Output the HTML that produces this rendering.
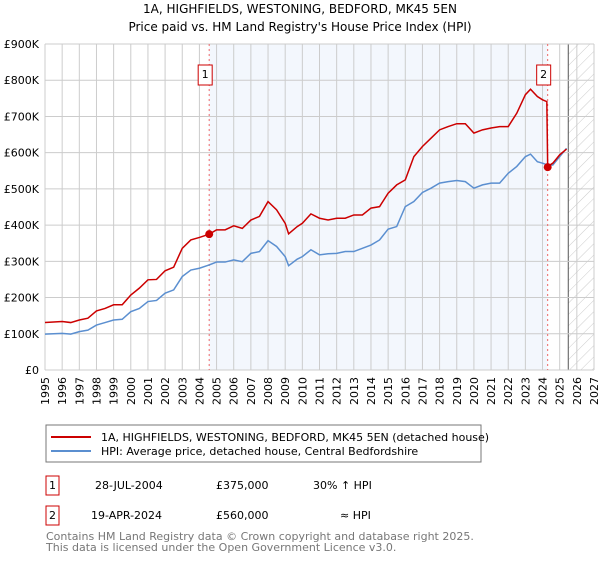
<!DOCTYPE html>
<html><head><meta charset="utf-8"><style>
body{margin:0;background:#fff;font-family:"Liberation Sans","DejaVu Sans",sans-serif;}
svg text{font-family:"DejaVu Sans","Liberation Sans",sans-serif;}
</style></head><body>
<svg id="c" width="600" height="560" xmlns="http://www.w3.org/2000/svg">
<text x="300" y="13" text-anchor="middle" font-size="12">1A, HIGHFIELDS, WESTONING, BEDFORD, MK45 5EN</text>
<text x="300" y="31" text-anchor="middle" font-size="12">Price paid vs. HM Land Registry's House Price Index (HPI)</text>
<g id="plot"></g>
<rect x="46" y="425" width="435" height="37" fill="none" stroke="#777"/>
<line x1="51" y1="437" x2="91" y2="437" stroke="#cc0000" stroke-width="2"/>
<text x="101" y="441" font-size="11">1A, HIGHFIELDS, WESTONING, BEDFORD, MK45 5EN (detached house)</text>
<line x1="51" y1="451" x2="91" y2="451" stroke="#5b8fd0" stroke-width="2"/>
<text x="101" y="455" font-size="11">HPI: Average price, detached house, Central Bedfordshire</text>
<g font-size="11">
<rect x="46" y="476" width="13" height="19" fill="none" stroke="#cc0000"/>
<text x="52.5" y="489" text-anchor="middle">1</text>
<text x="95" y="489">28-JUL-2004</text>
<text x="216" y="489">£375,000</text>
<text x="313" y="489">30% ↑ HPI</text>
<rect x="46" y="506" width="13" height="19" fill="none" stroke="#cc0000"/>
<text x="52.5" y="519" text-anchor="middle">2</text>
<text x="91" y="519">19-APR-2024</text>
<text x="216" y="519">£560,000</text>
<text x="340" y="519">≈ HPI</text>
</g>
<text x="46" y="540" font-size="11" fill="#777">Contains HM Land Registry data © Crown copyright and database right 2025.</text>
<text x="46" y="551" font-size="11" fill="#777">This data is licensed under the Open Government Licence v3.0.</text>
</svg>
<script>
const years=[1995,1996,1997,1998,1999,2000,2001,2002,2003,2004,2005,2006,2007,2008,2009,2010,2011,2012,2013,2014,2015,2016,2017,2018,2019,2020,2021,2022,2023,2024,2025,2026,2027];
const yTicks=[0,100,200,300,400,500,600,700,800,900];
const yTickLabels=["£0","£100K","£200K","£300K","£400K","£500K","£600K","£700K","£800K","£900K"];
const tPrice=[1995,1996,1996.5,1997,1997.5,1998,1998.5,1999,1999.5,2000,2000.5,2001,2001.5,2002,2002.5,2003,2003.5,2004,2004.57,2005,2005.5,2006,2006.5,2007,2007.5,2008,2008.5,2009,2009.2,2009.7,2010,2010.5,2011,2011.5,2012,2012.5,2013,2013.5,2014,2014.5,2015,2015.5,2016,2016.5,2017,2017.5,2018,2018.5,2019,2019.5,2020,2020.5,2021,2021.5,2022,2022.5,2023,2023.3,2023.7,2024.0,2024.25,2024.3,2024.6,2025,2025.4];
const price=[131,134,131,138,143,163,170,180,180,207,226,249,250,274,284,336,359,366,375,387,387,398,391,414,424,465,442,405,376,396,405,431,419,414,419,419,428,428,447,451,488,511,525,589,617,640,663,672,680,680,654,663,668,672,672,709,760,775,755,746,741,562,571,594,610];
const tHpi=[1995,1996,1996.5,1997,1997.5,1998,1998.5,1999,1999.5,2000,2000.5,2001,2001.5,2002,2002.5,2003,2003.5,2004,2004.57,2005,2005.5,2006,2006.5,2007,2007.5,2008,2008.5,2009,2009.2,2009.7,2010,2010.5,2011,2011.5,2012,2012.5,2013,2013.5,2014,2014.5,2015,2015.5,2016,2016.5,2017,2017.5,2018,2018.5,2019,2019.5,2020,2020.5,2021,2021.5,2022,2022.5,2023,2023.3,2023.7,2024.0,2024.3,2024.6,2025,2025.4];
const hpi=[99,101,99,106,110,124,131,138,140,161,170,189,192,212,221,258,276,281,290,298,298,304,299,322,327,357,341,313,288,306,313,332,318,321,322,327,327,336,345,359,389,396,451,465,490,502,516,520,523,520,502,511,516,516,543,562,589,596,575,571,566,566,589,612];
const sales=[[2004.57,375],[2024.3,560]];
const X0=45,X1=594,Y0=370,Y1=44;
const x=t=>X0+(t-1995)*(X1-X0)/32;
const y=v=>Y0-v*(Y0-Y1)/900;
const ns="http://www.w3.org/2000/svg";
const g=document.getElementById('plot');
function mk(tag,a){const e=document.createElementNS(ns,tag);for(const k in a)e.setAttribute(k,a[k]);g.appendChild(e);return e;}
let e;
e=mk('rect',{x:x(sales[0][0]),y:Y1,width:x(sales[1][0])-x(sales[0][0]),height:Y0-Y1,fill:'#eef3fc',opacity:0.7});


const defs=document.createElementNS(ns,'defs');defs.innerHTML='<pattern id="h" width="8" height="8" patternUnits="userSpaceOnUse" patternTransform="rotate(45)"><line x1="0" y1="0" x2="0" y2="8" stroke="#ccc" stroke-width="1"/></pattern>';g.appendChild(defs);
e=mk('rect',{x:x(2025.5),y:Y1,width:X1-x(2025.5),height:Y0-Y1,fill:'url(#h)'});


years.forEach((yr,i)=>{
 e=mk('line',{x1:x(yr),x2:x(yr),y1:Y1,y2:Y0,stroke:'#ccc','stroke-width':1});
 
 
 e=mk('text',{transform:`translate(${x(yr)+4},377) rotate(-90)`,'text-anchor':'end','font-size':11});
 e.textContent=yr;
 
 
});
e=mk('line',{x1:x(2025.5),x2:x(2025.5),y1:Y1,y2:Y0,stroke:'#555','stroke-width':1});


yTicks.forEach((v,i)=>{
 e=mk('line',{x1:X0,x2:X1,y1:y(v),y2:y(v),stroke:'#ccc','stroke-width':1});
 
 
 e=mk('text',{x:X0-6,y:y(v)+4,'text-anchor':'end','font-size':11});
 e.textContent=yTickLabels[i];
 
 
});
sales.forEach((s,i)=>{
 e=mk('line',{x1:x(s[0]),x2:x(s[0]),y1:Y1,y2:Y0,stroke:'#e66','stroke-dasharray':'2,3','stroke-width':1});
 
 
 e=mk('rect',{x:x(s[0])-11,y:65,width:14,height:20,fill:'#fff',stroke:'#cc0000'});
 
 
 e=mk('text',{x:x(s[0])-4,y:78,'text-anchor':'middle','font-size':11});
 e.textContent=String(i+1);
 
 
});
e=mk('polyline',{points:tHpi.map((t,i)=>x(t)+','+y(hpi[i])).join(' '),fill:'none',stroke:'#5b8fd0','stroke-width':1.5});


e=mk('polyline',{points:tPrice.map((t,i)=>x(t)+','+y(price[i])).join(' '),fill:'none',stroke:'#cc0000','stroke-width':1.5});


sales.forEach(s=>{
 e=mk('circle',{cx:x(s[0]),cy:y(s[1]),r:4,fill:'#cc0000'});
 
 
});
</script>
</body></html>
